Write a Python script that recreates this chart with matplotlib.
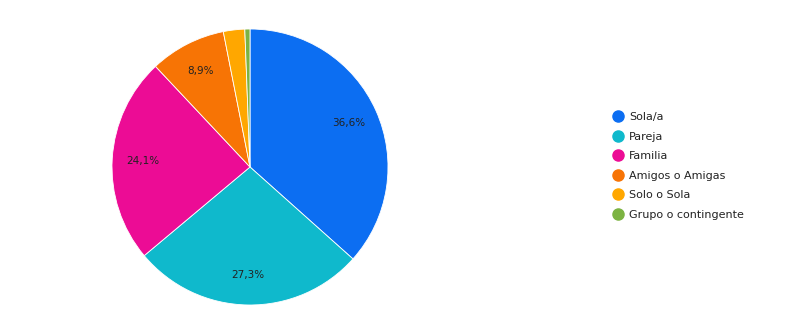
import matplotlib
matplotlib.use("Agg")
import matplotlib.pyplot as plt
from matplotlib.lines import Line2D

# ── Data ──────────────────────────────────────────────────────────
labels = ['Sola/a', 'Pareja', 'Familia', 'Amigos o Amigas',
          'Solo o Sola', 'Grupo o contingente']
values = [36.6, 27.3, 24.1, 8.9, 2.5, 0.6]
colors = ['#0c6ef2', '#0fb9cc', '#ec0c95', '#f77405', '#ffa700', '#7cb342']

W, H = 798, 328
fig = plt.figure(figsize=(W / 100, H / 100), dpi=100)

# pie centred at (250,167) px, radius ~138 px
cx, cy, r = 250, 167, 140
ax = fig.add_axes([(cx - r) / W, (H - cy - r) / H, 2 * r / W, 2 * r / H])


def fmt(p):
    return f'{p:.1f}'.replace('.', ',') + '%' if p > 5 else ''


wedges, texts, autotexts = ax.pie(
    values, colors=colors, startangle=90, counterclock=False,
    radius=138 / 140, autopct=fmt, pctdistance=0.78,
    wedgeprops=dict(edgecolor='white', linewidth=0.6),
    textprops=dict(fontsize=7.5, color='#222222'))
ax.set_xlim(-1, 1)
ax.set_ylim(-1, 1)
ax.set_aspect('equal')
ax.axis('off')

# legend to the right, circular markers
handles = [Line2D([0], [0], marker='o', ls='', markersize=8,
                  markerfacecolor=c, markeredgecolor=c) for c in colors]
fig.legend(handles, labels, loc='upper left',
           bbox_to_anchor=(601 / W, 1 - 102 / H), frameon=False,
           fontsize=8, labelspacing=0.86, handletextpad=0.4,
           handlelength=1.2, labelcolor='#222222')

fig.savefig('out.png', dpi=100, facecolor='white')
